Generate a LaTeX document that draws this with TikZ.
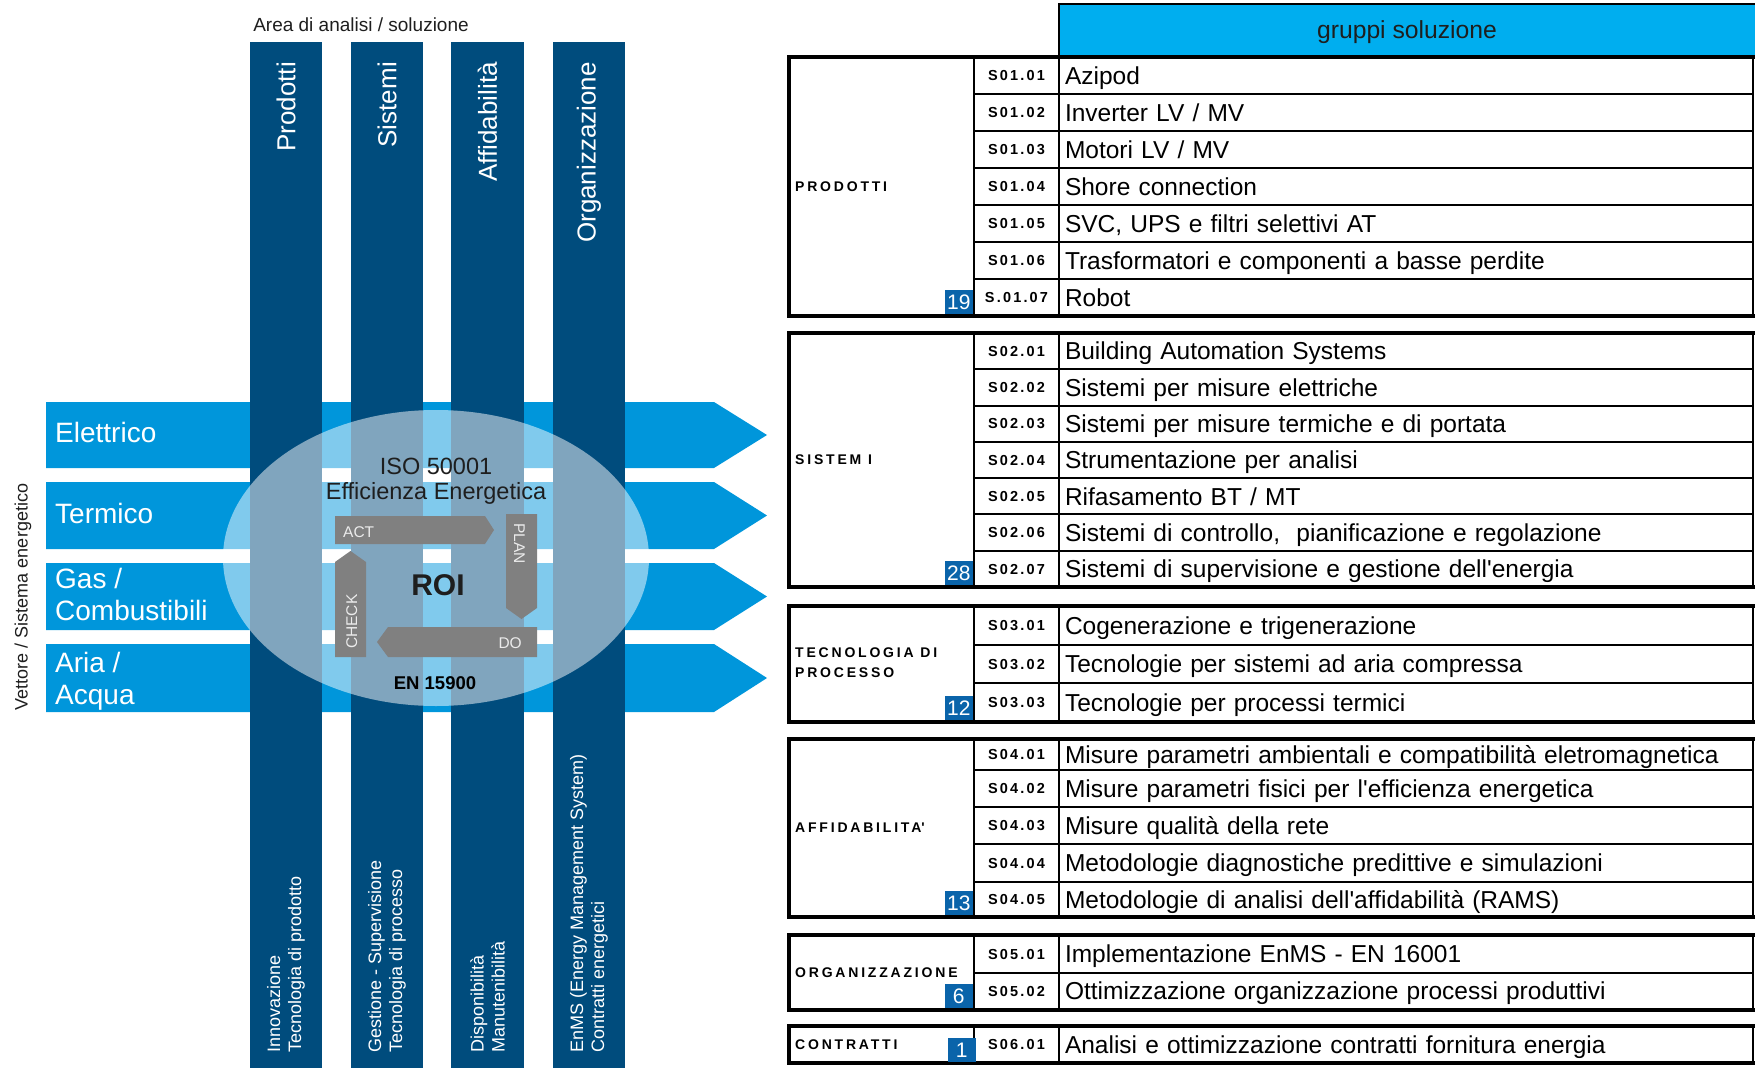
\documentclass[tikz,border=0pt]{standalone}
\usepackage{fontspec}
\setmainfont{Liberation Sans}
\newfontfamily\codefont{Liberation Sans}[LetterSpace=15]
\newfontfamily\tagfont{Liberation Sans}[LetterSpace=20]

\definecolor{barblue}{RGB}{0,76,125}
\definecolor{arrowblue}{RGB}{0,150,219}
\definecolor{headblue}{RGB}{0,174,239}
\definecolor{badgeblue}{RGB}{10,100,170}
\definecolor{pdcagray}{RGB}{128,128,128}
\definecolor{pdcatext}{RGB}{235,235,235}
\definecolor{darktext}{RGB}{30,30,30}

\newcommand{\fs}[2]{\fontsize{#1}{#2}\selectfont}
\newcommand{\ap}{\textquotesingle}

\begin{document}
\begin{tikzpicture}[x=1pt, y=-1pt,
  bartop/.style={rotate=90, anchor=east, inner sep=0pt, text=white, font=\fs{26}{30}},
  barfoot/.style={rotate=90, anchor=west, inner sep=0pt, text=white, align=left, font=\fs{18}{21}},
  vlabel/.style={anchor=base west, inner sep=0pt, text=white, align=left, font=\fs{28}{32}},
  pdca/.style={inner sep=0pt, text=pdcatext, font=\fs{15.5}{18}},
  grpline/.style={line width=4pt},
  codecell/.style={draw, line width=2pt, outer sep=0pt, inner sep=0pt, anchor=west,
    minimum width=85pt, minimum height=#1, text height=10.5pt, text depth=0pt,
    font=\codefont\bfseries\fs{14.5}{16}},
  itemcell/.style={draw, line width=2pt, outer sep=0pt, inner xsep=6pt, inner ysep=0pt, anchor=west,
    text width=682pt, align=left, minimum height=#1, text height=20pt, text depth=2.6pt,
    font=\fs{24.5}{28}},
  grplabel/.style={anchor=west, inner sep=0pt, align=left, font=\tagfont\bfseries\fs{14}{20}},
  badge/.style={anchor=south east, fill=badgeblue, text=white, inner sep=0pt,
    minimum width=28pt, minimum height=24pt, font=\fs{21}{24}},
]
\useasboundingbox (0,0) rectangle (1755,1068);

% energy carriers
\fill[arrowblue] (46,402) -- (714,402) -- (767,435) -- (714,468) -- (46,468) -- cycle;
\fill[arrowblue] (46,482) -- (714,482) -- (767,515.5) -- (714,549) -- (46,549) -- cycle;
\fill[arrowblue] (46,563) -- (714,563) -- (767,596.5) -- (714,630) -- (46,630) -- cycle;
\fill[arrowblue] (46,644) -- (714,644) -- (767,678) -- (714,712) -- (46,712) -- cycle;

% analysis areas
\fill[barblue] (250,42) rectangle (322,1068);
\fill[barblue] (351,42) rectangle (423,1068);
\fill[barblue] (451,42) rectangle (524,1068);
\fill[barblue] (553,42) rectangle (625,1068);

% ISO 50001 circle
\fill[white, fill opacity=0.5] (436,558) ellipse [x radius=213pt, y radius=148pt];

% PDCA
\fill[pdcagray] (335,516) -- (485,516) -- (494,530) -- (485,544) -- (335,544) -- cycle;
\fill[pdcagray] (506,514) -- (537,514) -- (537,608) -- (521.5,619) -- (506,608) -- cycle;
\fill[pdcagray] (537,627) -- (537,657) -- (388,657) -- (377,642) -- (388,627) -- cycle;
\fill[pdcagray] (335,657) -- (335,562) -- (350.5,551) -- (366,562) -- (366,657) -- cycle;

\node[pdca, anchor=base west] (act) at (343,537) {ACT};
\node[pdca, anchor=base west, rotate=-90] (plan) at (514,523) {PLAN};
\node[pdca, anchor=base east] (do) at (522,648) {DO};
\node[pdca, anchor=base west, rotate=90] (check) at (357,649) {CHECK};

\node[anchor=base, inner sep=0pt, align=center, text=darktext, font=\fs{23.5}{25}] (iso) at (436,499) {ISO 50001\\Efficienza Energetica};
\node[anchor=base, inner sep=0pt, text=darktext, font=\bfseries\fs{30}{34}] (roi) at (438,595) {ROI};
\node[anchor=base, inner sep=0pt, text=black, font=\bfseries\fs{18.5}{21}] (en) at (435,689) {EN 15900};

% labels left part
\node[inner sep=0pt, text=darktext, font=\fs{19}{22}] (area) at (361,25) {Area di analisi / soluzione};
\node[inner sep=0pt, rotate=90, text=darktext, font=\fs{18}{21}] (vett) at (23,597) {Vettore / Sistema energetico};

\node[bartop] (prod) at (286,62) {Prodotti};
\node[bartop] (sist) at (387,62) {Sistemi};
\node[bartop] (affi) at (487.5,62) {Affidabilità};
\node[bartop] (orga) at (589,62) {Organizzazione};

\node[barfoot] (prodf) at (286,1053) {Innovazione\\Tecnologia di prodotto};
\node[barfoot] (sistf) at (387,1053) {Gestione - Supervisione\\Tecnologia di processo};
\node[barfoot] (affif) at (487.5,1053) {Disponibilità\\Manutenibilità};
\node[barfoot] (orgaf) at (589,1053) {EnMS (Energy Management System)\\Contratti energetici};

\node[vlabel] (elet) at (55,442) {Elettrico};
\node[vlabel] (term) at (55,523) {Termico};
\node[vlabel] (gas) at (55,620) {Gas /\\Combustibili};
\node[vlabel] (aria) at (55,704) {Aria /\\Acqua};

% table header
\fill[headblue] (1059,4) rectangle (1755,57);
\draw[line width=2.5pt] (1059,57) -- (1059,4) -- (1755,4);
\node[anchor=base, inner sep=0pt, text=darktext, font=\fs{24.7}{28}] (head) at (1407,38) {gruppi soluzione};

% prodotti
\node[codecell=37pt] (c0101) at (974,75.5) {S01.01};
\node[itemcell=37pt] (t0101) at (1059,75.5) {Azipod};
\node[codecell=37pt] (c0102) at (974,112.5) {S01.02};
\node[itemcell=37pt] (t0102) at (1059,112.5) {Inverter LV / MV};
\node[codecell=37pt] (c0103) at (974,149.5) {S01.03};
\node[itemcell=37pt] (t0103) at (1059,149.5) {Motori LV / MV};
\node[codecell=37pt] (c0104) at (974,186.5) {S01.04};
\node[itemcell=37pt] (t0104) at (1059,186.5) {Shore connection};
\node[codecell=37pt] (c0105) at (974,223.5) {S01.05};
\node[itemcell=37pt] (t0105) at (1059,223.5) {SVC, UPS e filtri selettivi AT};
\node[codecell=37pt] (c0106) at (974,260.5) {S01.06};
\node[itemcell=37pt] (t0106) at (1059,260.5) {Trasformatori e componenti a basse perdite};
\node[codecell=37pt] (c0107) at (974,297.5) {S.01.07};
\node[itemcell=37pt] (t0107) at (1059,297.5) {Robot};
\draw[grpline] (1755,57) -- (789,57) -- (789,316) -- (1755,316);
\node[grplabel] (g1) at (795,186.5) {PRODOTTI};
\node[badge] (n1) at (973,314) {19};

% sistemi
\node[codecell=36.3pt] (c0201) at (974,351.1) {S02.01};
\node[itemcell=36.3pt] (t0201) at (1059,351.1) {Building Automation Systems};
\node[codecell=36.3pt] (c0202) at (974,387.4) {S02.02};
\node[itemcell=36.3pt] (t0202) at (1059,387.4) {Sistemi per misure elettriche};
\node[codecell=36.3pt] (c0203) at (974,423.7) {S02.03};
\node[itemcell=36.3pt] (t0203) at (1059,423.7) {Sistemi per misure termiche e di portata};
\node[codecell=36.3pt] (c0204) at (974,460) {S02.04};
\node[itemcell=36.3pt] (t0204) at (1059,460) {Strumentazione per analisi};
\node[codecell=36.3pt] (c0205) at (974,496.3) {S02.05};
\node[itemcell=36.3pt] (t0205) at (1059,496.3) {Rifasamento BT / MT};
\node[codecell=36.3pt] (c0206) at (974,532.6) {S02.06};
\node[itemcell=36.3pt] (t0206) at (1059,532.6) {Sistemi di controllo,~ pianificazione e regolazione};
\node[codecell=36.3pt] (c0207) at (974,568.9) {S02.07};
\node[itemcell=36.3pt] (t0207) at (1059,568.9) {Sistemi di supervisione e gestione dell\ap energia};
\draw[grpline] (1755,333) -- (789,333) -- (789,587) -- (1755,587);
\node[grplabel] (g2) at (795,460) {SISTEM I};
\node[badge] (n2) at (973,585) {28};

% tecnologia di processo
\node[codecell=38.7pt] (c0301) at (974,625.3) {S03.01};
\node[itemcell=38.7pt] (t0301) at (1059,625.3) {Cogenerazione e trigenerazione};
\node[codecell=38.7pt] (c0302) at (974,664) {S03.02};
\node[itemcell=38.7pt] (t0302) at (1059,664) {Tecnologie per sistemi ad aria compressa};
\node[codecell=38.7pt] (c0303) at (974,702.7) {S03.03};
\node[itemcell=38.7pt] (t0303) at (1059,702.7) {Tecnologie per processi termici};
\draw[grpline] (1755,606) -- (789,606) -- (789,722) -- (1755,722);
\node[grplabel] (g3) at (795,663) {TECNOLOGIA DI\\PROCESSO};
\node[badge] (n3) at (973,720) {12};

% affidabilita
\node[codecell=31pt] (c0401) at (974,754.5) {S04.01};
\node[itemcell=31pt] (t0401) at (1059,754.5) {Misure parametri ambientali e compatibilità eletromagnetica};
\node[codecell=37pt] (c0402) at (974,788.5) {S04.02};
\node[itemcell=37pt] (t0402) at (1059,788.5) {Misure parametri fisici per l\ap efficienza energetica};
\node[codecell=37pt] (c0403) at (974,825.5) {S04.03};
\node[itemcell=37pt] (t0403) at (1059,825.5) {Misure qualità della rete};
\node[codecell=38pt] (c0404) at (974,863) {S04.04};
\node[itemcell=38pt] (t0404) at (1059,863) {Metodologie diagnostiche predittive e simulazioni};
\node[codecell=35pt] (c0405) at (974,899.5) {S04.05};
\node[itemcell=35pt] (t0405) at (1059,899.5) {Metodologie di analisi dell\ap affidabilità (RAMS)};
\draw[grpline] (1755,739) -- (789,739) -- (789,917) -- (1755,917);
\node[grplabel] (g4) at (795,828) {AFFIDABILITA\ap};
\node[badge] (n4) at (973,915) {13};

% organizzazione
\node[codecell=37.5pt] (c0501) at (974,953.75) {S05.01};
\node[itemcell=37.5pt] (t0501) at (1059,953.75) {Implementazione EnMS - EN 16001};
\node[codecell=37.5pt] (c0502) at (974,991.25) {S05.02};
\node[itemcell=37.5pt] (t0502) at (1059,991.25) {Ottimizzazione organizzazione processi produttivi};
\draw[grpline] (1755,935) -- (789,935) -- (789,1010) -- (1755,1010);
\node[grplabel] (g5) at (795,972.5) {ORGANIZZAZIONE};
\node[badge] (n5) at (973,1008) {6};

% contratti
\node[codecell=37pt] (c0601) at (974,1044.5) {S06.01};
\node[itemcell=37pt] (t0601) at (1059,1044.5) {Analisi e ottimizzazione contratti fornitura energia};
\draw[grpline] (1755,1026) -- (789,1026) -- (789,1063) -- (1755,1063);
\node[grplabel] (g6) at (795,1044.5) {CONTRATTI};
\node[badge] (n6) at (976,1062) {1};
\end{tikzpicture}
\end{document}
